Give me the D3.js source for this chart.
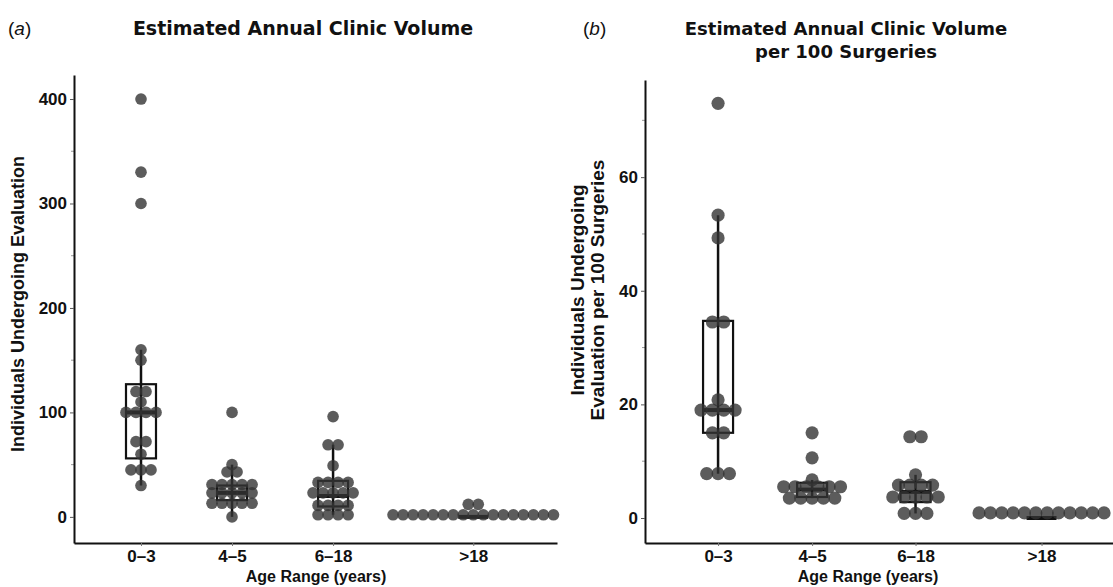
<!DOCTYPE html>
<html>
<head>
<meta charset="utf-8">
<script src="https://cdn.jsdelivr.net/npm/d3@7"></script>
<style>
  body { margin: 0; background: #fff; }
  svg { display: block; }
  .tick text { font-family: "Liberation Sans", Arial, sans-serif; font-weight: bold; font-size: 17px; fill: #111; }
</style>
</head>
<body>
<script>
// categories on the x axis
var categories = ["0\u20133", "4\u20135", "6\u201318", ">18"];
// centre of each category along x, in category units (spacing is uneven in the original)
var slotA = [1, 2, 3.11, 4.65];
var slotB = [1, 2, 3.1, 4.44];

// (a) estimated annual clinic volume, one value per clinic (binned dot values)
var volume03 = [400, 330, 300, 160, 150, 120, 120, 110, 100, 100, 100, 100, 72, 72, 60, 45, 45, 45, 30];
var volume45 = [100, 50, 43, 43, 31, 31, 31, 31, 31, 23, 23, 23, 23, 23, 13, 13, 13, 13, 13, 0];
var volume618 = [96, 69, 69, 49, 33, 33, 33, 33, 23, 23, 23, 23, 23, 11, 11, 11, 11, 2, 2, 2, 2];
var volume18 = [12, 12, 2, 2, 2, 2, 2, 2, 2, 2, 2, 2, 2, 2, 2, 2, 2, 2, 2];

// (b) per 100 surgeries
var per03 = [73, 53.3, 49.3, 34.5, 34.5, 20.8, 19, 19, 19, 19, 15, 15, 7.8, 7.8, 7.8];
var per45 = [15, 10.6, 6.7, 5.5, 5.5, 5.5, 5.5, 5.5, 5.5, 3.5, 3.5, 3.5, 3.5, 3.5];
var per618 = [14.3, 14.3, 7.6, 5.8, 5.8, 5.8, 5.8, 3.7, 3.7, 3.7, 3.7, 3.7, 0.8, 0.8, 0.8];
var per18 = [0.9, 0.9, 0.9, 0.9, 0.9, 0.9, 0.9, 0.9, 0.9, 0.9, 0.9, 0.9];

// box stats: [lower whisker, q1, median, q3, upper whisker]
var boxA = [[30, 56, 100, 127, 160], [0, 16, 23, 30, 50], [2, 10, 20, 34.5, 69], [0, 0, 0, 0, 0]];
var boxB = [[7.8, 15, 19, 34.7, 53.3], [3.5, 3.7, 5, 6.2, 6.7], [0.8, 2.8, 4.6, 6.3, 7.6], [0, 0, 0, 0, 0]];

var yTicksA = [0, 100, 200, 300, 400], yMinorA = [50, 150, 250, 350];
var yTicksB = [0, 20, 40, 60], yMinorB = [10, 30, 50, 70];

var width = 1113, height = 587;

var svg = d3.select("body").append("svg")
    .attr("width", width)
    .attr("height", height);

function drawPanel(p) {
    var g = svg.append("g");

    var x = d3.scaleLinear().domain(p.xDomain).range([p.left, p.right]);
    var y = d3.scaleLinear().domain(p.yDomain).range([p.bottom, p.top]);

    // minor ticks
    g.selectAll("line.minor")
        .data(p.minor)
        .enter().append("line")
        .attr("class", "minor")
        .attr("x1", p.left - 3).attr("x2", p.left)
        .attr("y1", function(d) { return y(d); })
        .attr("y2", function(d) { return y(d); })
        .attr("stroke", "#999")
        .attr("stroke-width", 1);

    var ya = g.append("g")
        .attr("transform", "translate(" + p.left + ",0)")
        .call(d3.axisLeft(y).tickValues(p.ticks).tickSize(4).tickSizeOuter(0).tickPadding(3));
    ya.select(".domain").attr("stroke", "#111").attr("stroke-width", 2);
    ya.selectAll(".tick line").attr("stroke", "#555");

    var xa = g.append("g")
        .attr("transform", "translate(0," + p.bottom + ")")
        .call(d3.axisBottom(x).tickValues(p.slots).tickSize(3).tickSizeOuter(0).tickPadding(4)
            .tickFormat(function(d, i) { return categories[i]; }));
    xa.select(".domain").attr("stroke", "#111").attr("stroke-width", 2);
    xa.selectAll(".tick line").attr("stroke", "#777");

    // boxes
    var bw = 15;
    p.boxes.forEach(function(b, i) {
        var cx = x(p.slots[i]);
        var bg = g.append("g");
        bg.append("line")
            .attr("x1", cx).attr("x2", cx)
            .attr("y1", y(b[0])).attr("y2", y(b[4]))
            .attr("stroke", "#111").attr("stroke-width", 2.5);
        bg.append("rect")
            .attr("x", cx - bw).attr("width", bw * 2)
            .attr("y", y(b[3])).attr("height", Math.max(0, y(b[1]) - y(b[3])))
            .attr("fill", "none").attr("stroke", "#111").attr("stroke-width", 2.2);
        bg.append("line")
            .attr("x1", cx - bw).attr("x2", cx + bw)
            .attr("y1", y(b[2])).attr("y2", y(b[2]))
            .attr("stroke", "#111").attr("stroke-width", 4);
    });

    // dots, stacked centred around each category like a dotplot
    var step = y(0) - y(p.binwidth);
    p.groups.forEach(function(vals, i) {
        var cx = x(p.slots[i]);
        var bins = d3.rollup(vals, function(v) { return v.length; }, function(d) { return d; });
        bins.forEach(function(n, v) {
            for (var k = 0; k < n; k++) {
                g.append("circle")
                    .attr("cx", cx + (k - (n - 1) / 2) * step)
                    .attr("cy", y(v))
                    .attr("r", step * 0.58)
                    .attr("fill", "#333")
                    .attr("fill-opacity", 0.8);
            }
        });
    });

    // axis titles
    g.append("text")
        .attr("x", p.xTitleX).attr("y", 582)
        .attr("text-anchor", "middle")
        .style("font-family", "Liberation Sans, Arial, sans-serif")
        .style("font-weight", "bold").style("font-size", "16px").style("fill", "#111")
        .text("Age Range (years)");

    var yt = g.append("text")
        .attr("transform", "translate(" + p.yTitleX + "," + p.yTitleY + ") rotate(-90)")
        .attr("text-anchor", "middle")
        .style("font-family", "Liberation Sans, Arial, sans-serif")
        .style("font-weight", "bold").style("font-size", p.yTitleSize + "px").style("fill", "#111");
    p.yTitle.forEach(function(line, i) {
        yt.append("tspan").attr("x", 0).attr("dy", i == 0 ? 0 : 20).text(line);
    });

    // title and panel letter
    var tt = g.append("text")
        .attr("x", p.titleX).attr("y", 35)
        .attr("text-anchor", "middle")
        .style("font-family", "DejaVu Sans, Verdana, sans-serif")
        .style("font-weight", "bold").style("font-size", p.titleSize + "px").style("fill", "#111");
    p.title.forEach(function(line, i) {
        tt.append("tspan").attr("x", p.titleX).attr("dy", i == 0 ? 0 : 23).text(line);
    });

    var lt = g.append("text")
        .attr("x", p.letterX).attr("y", 35)
        .style("font-family", "Liberation Sans, Arial, sans-serif")
        .style("font-size", "19px").style("fill", "#111");
    lt.append("tspan").text("(");
    lt.append("tspan").style("font-style", "italic").text(p.letter);
    lt.append("tspan").text(")");
}

drawPanel({
    left: 74, right: 557, top: 75, bottom: 543,
    xDomain: [0.264, 5.57], yDomain: [-25, 423],
    slots: slotA, ticks: yTicksA, minor: yMinorA,
    groups: [volume03, volume45, volume618, volume18],
    boxes: boxA, binwidth: 9.6,
    xTitleX: 316, yTitleX: 24, yTitleY: 304, yTitleSize: 18,
    yTitle: ["Individuals Undergoing Evaluation"],
    title: ["Estimated Annual Clinic Volume"], titleX: 303, titleSize: 19,
    letter: "a", letterX: 8
});

drawPanel({
    left: 645, right: 1113, top: 80, bottom: 543,
    xDomain: [0.223, 5.2], yDomain: [-4.4, 77.1],
    slots: slotB, ticks: yTicksB, minor: yMinorB,
    groups: [per03, per45, per618, per18],
    boxes: boxB, binwidth: 2.0,
    xTitleX: 868, yTitleX: 584, yTitleY: 290, yTitleSize: 19,
    yTitle: ["Individuals Undergoing", "Evaluation per 100 Surgeries"],
    title: ["Estimated Annual Clinic Volume", "per 100 Surgeries"], titleX: 846, titleSize: 18,
    letter: "b", letterX: 583
});
</script>
</body>
</html>
